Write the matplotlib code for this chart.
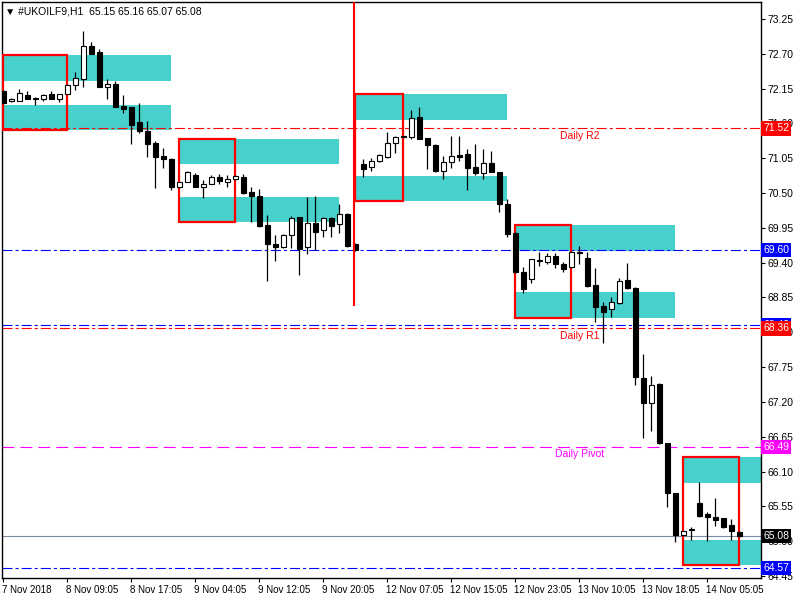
import numpy as np
import matplotlib
matplotlib.use("Agg")
import matplotlib.pyplot as plt
import matplotlib.transforms as mtransforms
from matplotlib.patches import Rectangle

plt.rcParams['lines.scale_dashes'] = False
plt.rcParams['font.family'] = ['Liberation Sans', 'DejaVu Sans']

# hourly candles #UKOILF9, H1
opens = [72.11, 71.95, 71.95, 72.05, 72.00, 71.99, 72.06, 71.99, 72.06, 72.21,
         72.30, 72.82, 72.73, 72.18, 72.22, 71.88, 71.86, 71.62, 71.48, 71.29,
         71.09, 71.04, 70.60, 70.67, 70.79, 70.60, 70.64, 70.75, 70.67, 70.72,
         70.75, 70.52, 70.45, 70.00, 69.70, 69.65, 69.84, 70.12, 69.65, 70.03,
         69.92, 70.11, 70.01, 70.17, 69.70, 70.96, 70.91, 71.01, 71.07, 71.29,
         71.40, 71.38, 71.70, 71.37, 71.26, 70.85, 70.99, 71.10, 71.12, 70.91,
         70.82, 70.97, 70.83, 70.33, 69.87, 69.25, 69.14, 69.44, 69.41, 69.50,
         69.38, 69.33, 69.57, 69.47, 69.05, 68.72, 68.67, 68.76, 69.13, 69.00,
         67.58, 67.18, 67.48, 66.55, 65.76, 65.10, 65.19, 65.60, 65.43, 65.38,
         65.37, 65.26, 65.15]
highs = [72.13, 72.00, 72.14, 72.11, 72.02, 72.06, 72.11, 72.06, 72.22, 72.41,
         73.06, 72.89, 72.78, 72.30, 72.27, 72.05, 71.86, 71.92, 71.64, 71.32,
         71.21, 71.05, 70.67, 70.85, 70.82, 70.71, 70.79, 70.80, 70.79, 70.79,
         70.80, 70.60, 70.56, 70.15, 69.84, 69.85, 70.14, 70.12, 70.44, 70.45,
         70.12, 70.12, 70.33, 70.18, 69.71, 71.04, 71.05, 71.12, 71.46, 71.40,
         71.40, 71.81, 71.86, 71.37, 71.27, 71.09, 71.40, 71.40, 71.20, 71.27,
         71.20, 71.16, 70.83, 70.41, 69.88, 69.33, 69.46, 69.57, 69.55, 69.55,
         69.41, 69.58, 69.66, 69.57, 69.32, 68.78, 68.86, 69.16, 69.39, 69.02,
         67.96, 67.61, 67.50, 66.55, 65.76, 65.16, 65.22, 65.93, 65.46, 65.68,
         65.37, 65.35, 65.16]
lows = [71.91, 71.94, 71.95, 71.99, 71.89, 71.95, 71.99, 71.94, 72.06, 72.13,
        72.18, 72.70, 72.18, 71.99, 71.86, 71.76, 71.27, 71.45, 71.07, 70.58,
        70.90, 70.55, 70.58, 70.67, 70.60, 70.42, 70.64, 70.64, 70.60, 70.71,
        70.49, 70.04, 69.96, 69.11, 69.43, 69.63, 69.63, 69.21, 69.54, 69.60,
        69.81, 69.81, 69.87, 69.65, 69.58, 70.75, 70.85, 70.99, 71.05, 71.13,
        71.38, 71.35, 71.35, 70.88, 70.83, 70.72, 70.90, 71.01, 70.55, 70.79,
        70.72, 70.83, 70.20, 69.81, 69.24, 68.92, 69.08, 69.35, 69.38, 69.32,
        69.25, 69.32, 69.38, 69.02, 68.46, 68.13, 68.54, 68.75, 68.98, 67.47,
        66.63, 66.74, 66.53, 65.54, 64.99, 65.08, 65.02, 65.38, 65.00, 65.24,
        65.21, 65.02, 65.07]
closes = [71.92, 71.99, 72.08, 71.99, 71.99, 72.05, 71.99, 72.06, 72.21, 72.32,
          72.82, 72.70, 72.18, 72.22, 71.86, 71.83, 71.58, 71.48, 71.27, 71.07,
          71.04, 70.60, 70.67, 70.83, 70.60, 70.64, 70.75, 70.69, 70.72, 70.77,
          70.50, 70.45, 69.98, 69.70, 69.65, 69.84, 70.11, 69.62, 70.03, 69.88,
          70.11, 69.98, 70.17, 69.66, 69.60, 70.88, 71.01, 71.10, 71.29, 71.38,
          71.38, 71.69, 71.35, 71.26, 70.85, 70.99, 71.09, 71.07, 70.90, 70.82,
          70.97, 70.83, 70.33, 69.85, 69.25, 68.98, 69.46, 69.43, 69.50, 69.38,
          69.30, 69.57, 69.55, 69.03, 68.70, 68.62, 68.78, 69.11, 69.00, 67.59,
          67.18, 67.47, 66.55, 65.76, 65.10, 65.16, 65.18, 65.40, 65.38, 65.33,
          65.22, 65.16, 65.08]

time_ticks = [0, 8, 16, 24, 32, 40, 48, 56, 64, 72, 80, 88]
time_labels = ["7 Nov 2018", "8 Nov 09:05", "8 Nov 17:05", "9 Nov 04:05",
               "9 Nov 12:05", "9 Nov 20:05", "12 Nov 07:05", "12 Nov 15:05",
               "12 Nov 23:05", "13 Nov 10:05", "13 Nov 18:05", "14 Nov 05:05"]
price_ticks = [73.25, 72.70, 72.15, 71.60, 71.05, 70.50, 69.95, 69.40, 68.85,
               68.30, 67.75, 67.20, 66.65, 66.10, 65.55, 65.00, 64.45]

# supply / demand zones (bar index ranges and price bands)
zone_start = [0, 22, 44, 64, 85]
box_end = [8, 29, 50, 71, 92]
zone_end = [21, 42, 63, 84, 100]
upper_top = [72.68, 71.35, 72.06, 69.99, 66.33]
upper_bot = [72.27, 70.96, 71.65, 69.58, 65.92]
lower_top = [71.89, 70.44, 70.77, 68.94, 65.02]
lower_bot = [71.50, 70.04, 70.37, 68.53, 64.62]

# horizontal levels: value, colour, style, label
level_values = [71.52, 69.60, 68.42, 68.36, 66.49, 65.08, 64.57]
level_colors = ['red', 'blue', 'blue', 'red', 'magenta', '#7a8a99', 'blue']
level_styles = ['dashdot', 'dashdot', 'dashdot', 'dashdot', 'dashed', 'solid', 'dashdot']
level_box = ['red', 'blue', 'blue', 'red', 'magenta', 'black', 'blue']
level_names = {71.52: "Daily R2", 68.36: "Daily R1", 66.49: "Daily Pivot"}

vline_bar = 43.85
vline_low = 68.72

fig = plt.figure(figsize=(8, 6), dpi=100)
ax = fig.add_axes([2 / 800, 22 / 600, 759 / 800, 576 / 600])
ax.set_xlim(-0.16, 94.7)
ax.set_ylim(64.418, 73.518)

for s in ax.spines.values():
    s.set_color('black')
    s.set_linewidth(1)

# cyan zones and red boxes
for i in range(len(zone_start)):
    for top, bot in ((upper_top[i], upper_bot[i]), (lower_top[i], lower_bot[i])):
        ax.add_patch(Rectangle((zone_start[i], bot), zone_end[i] - zone_start[i], top - bot,
                               facecolor='#48d1cc', edgecolor='none', zorder=1))
    ax.add_patch(Rectangle((zone_start[i], lower_bot[i]), box_end[i] - zone_start[i],
                           upper_top[i] - lower_bot[i], facecolor='none',
                           edgecolor='red', linewidth=1.6, zorder=3))

dash_styles = {'dashdot': (0, (7.2, 2.2, 2.2, 2.2)), 'dashed': (0, (8.6, 4.3)), 'solid': '-'}
for v, c, st in zip(level_values, level_colors, level_styles):
    ax.axhline(v, color=c, linestyle=dash_styles[st], linewidth=0.8, zorder=2)

for v, name in level_names.items():
    col = 'magenta' if 'Pivot' in name else 'red'
    ax.text(72, v - 0.04, name, color=col, fontsize=7.5, ha='center', va='top', zorder=6)

ax.vlines(vline_bar, vline_low, 73.6, color='red', linewidth=1.5, zorder=5)

# candles
x = np.arange(len(opens))
o = np.array(opens)
c = np.array(closes)
ax.vlines(x, lows, highs, color='black', linewidth=0.9, zorder=4)
bull = c >= o
bottoms = np.minimum(o, c)
heights = np.maximum(np.abs(c - o), 0.012)
ax.bar(x[bull], heights[bull], bottom=bottoms[bull], width=0.6,
       facecolor='white', edgecolor='black', linewidth=0.8, zorder=4.5)
ax.bar(x[~bull], heights[~bull], bottom=bottoms[~bull], width=0.6,
       facecolor='black', edgecolor='black', linewidth=0.8, zorder=4.5)

# axes
ax.yaxis.tick_right()
ax.set_yticks(price_ticks)
ax.set_yticklabels([f"{p:.2f}" for p in price_ticks])
ax.tick_params(axis='y', direction='out', length=3, width=0.8, pad=1.5, labelsize=7.5)
ax.set_xticks(time_ticks)
ax.set_xticklabels(time_labels)
ax.tick_params(axis='x', direction='out', length=3, width=0.8, pad=2, labelsize=7)
offset = mtransforms.ScaledTranslation(-1.0 / 72, 0, fig.dpi_scale_trans)
for lbl in ax.get_xticklabels():
    lbl.set_horizontalalignment('left')
    lbl.set_transform(lbl.get_transform() + offset)

# price boxes on the right scale
trans = mtransforms.blended_transform_factory(ax.transAxes, ax.transData)
for v, bc in zip(level_values, level_box):
    ax.text(1.003, v, f"{v:.2f}", transform=trans, color='white', fontsize=7.5,
            ha='left', va='center', clip_on=False, zorder=10,
            bbox=dict(boxstyle='square,pad=0.2', facecolor=bc, edgecolor='none'))

ax.text(0.004, 0.993, "\u25bc #UKOILF9,H1  65.15 65.16 65.07 65.08",
        transform=ax.transAxes, fontsize=7.5, ha='left', va='top', zorder=10)

fig.savefig("out.png", dpi=100)
